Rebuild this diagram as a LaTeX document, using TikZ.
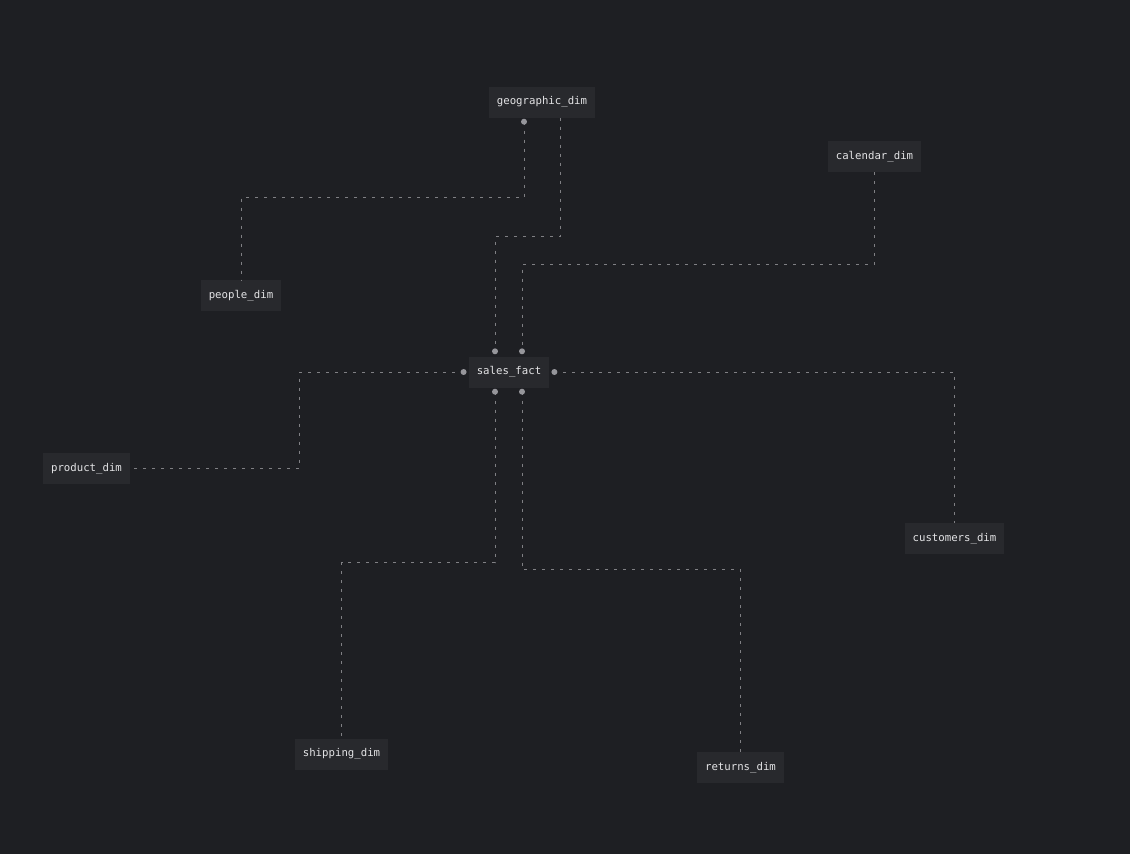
\documentclass[tikz,border=0pt]{standalone}
\usepackage{fontspec}
\setmonofont{DejaVu Sans Mono}
\definecolor{bg}{RGB}{30,31,35}
\definecolor{boxfill}{RGB}{40,41,45}
\definecolor{txt}{RGB}{228,228,230}
\definecolor{linec}{RGB}{128,128,132}
\definecolor{dotc}{RGB}{150,150,155}
\tikzset{
  tbl/.style={fill=boxfill, draw=none, text=txt, font=\ttfamily\fontsize{10.7}{12}\selectfont,
    inner xsep=8pt, inner ysep=0pt, minimum height=31pt},
  link/.style={draw=linec, line width=0.9pt, dash pattern=on 3pt off 6pt},
  portdot/.style={fill=dotc},
}
\begin{document}
\begin{tikzpicture}[x=1pt,y=-1pt]
\fill[bg] (0,0) rectangle (1130,854);
\useasboundingbox (0,0) rectangle (1130,854);

\node[tbl] (sf)     at (509,372)   {sales\_fact};
\node[tbl] (geo)    at (542,102)   {geographic\_dim};
\node[tbl] (cal)    at (874.5,156.5) {calendar\_dim};
\node[tbl] (people) at (241,295.5) {people\_dim};
\node[tbl] (prod)   at (86.5,468.5) {product\_dim};
\node[tbl] (cust)   at (954.5,538.5) {customers\_dim};
\node[tbl] (ship)   at (341.5,754) {shipping\_dim};
\node[tbl] (ret)    at (740.5,767.5) {returns\_dim};

\coordinate (g1) at ([xshift=-18pt,yshift=-4pt]geo.south);
\coordinate (g2) at ([xshift=18pt]geo.south);
\coordinate (s1) at ([xshift=-14pt,yshift=5pt]sf.north);
\coordinate (s2) at ([xshift=13pt,yshift=5pt]sf.north);
\coordinate (s3) at ([xshift=-5pt]sf.west);
\coordinate (s4) at ([xshift=5pt]sf.east);
\coordinate (s5) at ([xshift=-14pt,yshift=-4pt]sf.south);
\coordinate (s6) at ([xshift=13pt,yshift=-4pt]sf.south);
\coordinate (pk) at ([xshift=169pt]prod.east);

\draw[link] (g1) -- ++(0,76) -| (people.north);
\draw[link] (g2) -- ++(0,118.5) -| (s1);
\draw[link] (cal.south) -- ++(0,92) -| (s2);
\draw[link] (s3) -| (pk) -- (prod.east);
\draw[link] (s4) -| (cust.north);
\draw[link] (s5) -- ++(0,171) -| (ship.north);
\draw[link] (s6) -- ++(0,178) -| (ret.north);

\foreach \p in {g1,s1,s2,s3,s4,s5,s6}
  \fill[portdot] (\p) circle (3pt);
\end{tikzpicture}
\end{document}
